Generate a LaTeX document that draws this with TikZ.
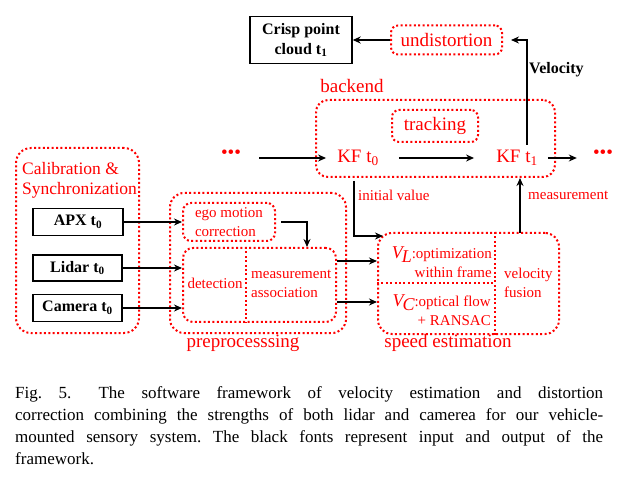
\documentclass[tikz,border=0pt]{standalone}
\usepackage{fontspec}
\setmainfont{Liberation Serif}
\usetikzlibrary{arrows.meta}
\begin{document}
\begin{tikzpicture}[x=1pt,y=-1pt,
  rbox/.style={draw=red, line width=2pt, dash pattern=on 2pt off 2.4pt, rounded corners=9pt, inner sep=0pt},
  rdot/.style={draw=red, line width=2pt, dash pattern=on 2pt off 2.4pt},
  bbox/.style={draw=black, line width=1.4pt, inner sep=0pt, font=\fontsize{16}{20}\selectfont\bfseries, align=center},
  arr/.style={line width=1.8pt, -{Stealth[length=8pt,width=7pt]}},
  rtext/.style={text=red, inner sep=0pt},
  big/.style={font=\fontsize{19}{21}\selectfont},
  mid/.style={font=\fontsize{17.5}{20}\selectfont},
  small/.style={font=\fontsize{15}{18.5}\selectfont},
]
\useasboundingbox (0,0) rectangle (635,489);

% output
\node[bbox, minimum width=102pt, minimum height=47pt] (crisp) at (301,40) {Crisp point\\cloud t\textsubscript{1}};
\node[rbox, rounded corners=7pt, minimum width=111pt, minimum height=29pt, text=red, big] (undist) at (446.5,40) {undistortion};
\draw[arr] (undist.west) -- (crisp.east);

% backend
\node[rtext, big] (backendlbl) at (352,86) {backend};
\node[rbox, rounded corners=12pt, minimum width=239pt, minimum height=77pt] (backend) at (435.5,138.5) {};
\node[rbox, rounded corners=7pt, minimum width=86pt, minimum height=32pt, text=red, big] (tracking) at (435,126) {tracking};
\node[rtext, big] (kf0) at (358,158) {KF t\textsubscript{0}};
\node[rtext, big] (kf1) at (517,158) {KF t\textsubscript{1}};
\node[rtext, big] (dotsL) at (231,154) {•••};
\node[rtext, big] (dotsR) at (603,154) {•••};
\draw[arr] ([xshift=18pt]dotsL.east |- kf0.center) -- ([xshift=-11pt]kf0.west);
\draw[arr] ([xshift=20pt]kf0.east) -- ([xshift=-22pt]kf1.west);
\draw[arr] ([xshift=10pt]kf1.east) -- ([xshift=-16pt]dotsR.west |- kf1.center);

% velocity
\coordinate (vs) at (527,145);
\draw[arr, shorten >=8pt] (vs) |- (undist.east);
\node[font=\fontsize{16}{18}\selectfont\bfseries, anchor=west, inner sep=0pt] (vel) at (529,70) {Velocity};

% calibration
\node[rbox, rounded corners=15pt, minimum width=123pt, minimum height=185pt] (calib) at (77.5,240.5) {};
\node[rtext, mid, align=left, anchor=base west] (caltxt) at (22,195) {Calibration \&\\Synchronization};
\node[bbox, minimum width=90pt, minimum height=27pt] (apx) at (78,222) {APX t\textsubscript{0}};
\node[bbox, minimum width=89pt, minimum height=26pt] (lidar) at (77.5,268) {Lidar t\textsubscript{0}};
\node[bbox, minimum width=89pt, minimum height=27pt] (camera) at (77.5,308) {Camera t\textsubscript{0}};

% preprocessing
\node[rbox, rounded corners=14pt, minimum width=176pt, minimum height=140pt] (pre) at (258,263) {};
\node[rbox, rounded corners=8pt, minimum width=92pt, minimum height=38pt, text=red, small, align=left] (ego) at (229,222) {ego motion\\correction};
\node[rbox, rounded corners=10pt, minimum width=153pt, minimum height=74pt] (det) at (259.5,285) {};
\coordinate (ddiv) at (246,0);
\draw[rdot] (det.north -| ddiv) -- (det.south -| ddiv);
\node[rtext, small] (dettxt) at (215,283) {detection};
\node[rtext, small, align=left, anchor=west] (assoc) at (251,284) {measurement\\association};
\node[rtext, big] (prelbl) at (243,343) {preprocesssing};

\draw[arr] (apx.east) -- (apx.east -| ego.west);
\draw[arr] (lidar.east) -- (lidar.east -| det.west);
\draw[arr] (camera.east) -- (camera.east -| det.west);
\draw[arr] ([xshift=5pt]ego.east) -| ([xshift=47.5pt]det.north);

% speed estimation
\node[rbox, rounded corners=14pt, minimum width=181pt, minimum height=101pt] (speed) at (468.5,283.5) {};
\coordinate (vdiv) at (495,0);
\draw[rdot] (speed.north -| vdiv) -- (speed.south -| vdiv);
\draw[rdot] (speed.west) -- (speed.west -| vdiv);
\node[rtext, small, align=right, anchor=east] (vl) at (492,262) {{\fontsize{18}{18}\selectfont\itshape V\kern-1pt\raisebox{-4pt}{L}}:optimization\\within frame};
\node[rtext, small, align=right, anchor=east] (vc) at (491,310) {{\fontsize{18}{18}\selectfont\itshape V\kern-1pt\raisebox{-4pt}{C}}:optical flow\\+ RANSAC};
\node[rtext, small, align=left, anchor=west] (fusion) at (504,283) {velocity\\fusion};
\node[rtext, big] (speedlbl) at (448,343) {speed estimation};

\draw[arr] ([yshift=-17pt]det.east) -- ([yshift=-17pt]det.east -| speed.west);
\draw[arr] ([yshift=24pt]det.east) -- ([yshift=24pt]det.east -| speed.west);

% initial value / measurement
\coordinate (ivs) at (354,181);
\coordinate (ive) at (383,236);
\draw[arr] (ivs) |- (ive);
\node[rtext, small, anchor=west] (ivl) at (358,195) {initial value};
\coordinate (ms) at (520,233);
\draw[arr] (ms) -- (ms |- backend.south);
\node[rtext, small, anchor=west] (mlbl) at (528,195) {measurement};

% caption
\node[anchor=north west, text width=588pt, align=justify, inner sep=0pt, font=\fontsize{17}{22}\selectfont\frenchspacing] (cap) at (15,386) {Fig.~5.\hspace{1.6em}The software framework of velocity estimation and distortion\linebreak correction combining the strengths of both lidar and camerea for our vehicle-\linebreak mounted sensory system. The black fonts represent input and output of the\linebreak framework.};
\end{tikzpicture}
\end{document}
